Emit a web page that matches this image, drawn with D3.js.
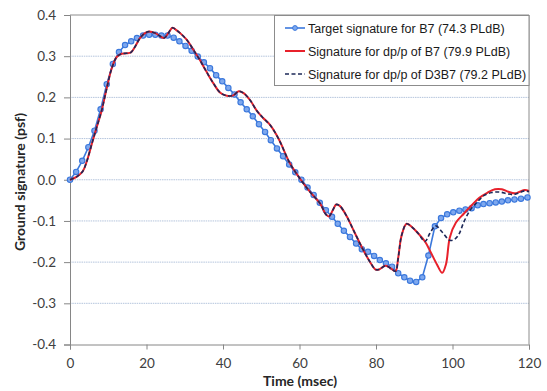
<!DOCTYPE html>
<html><head><meta charset="utf-8">
<script src="https://cdn.jsdelivr.net/npm/d3@7"></script>
<style>
body{margin:0;background:#fff;}
svg{display:block;}
.tick text{font-family:Lato, "Open Sans", sans-serif;font-size:13.5px;fill:#404040;}
</style></head>
<body><svg id="chart" width="547" height="391"></svg>
<script>
// ---- data ----
const yTicks = [-0.4,-0.3,-0.2,-0.1,0.0,0.1,0.2,0.3,0.4];
const xTicks = [0,20,40,60,80,100,120];

// Target signature for B7 (markers)
const targetT = [0,1.6,3.2,4.8,6.4,8.0,9.6,11.2,12.8,14.4,16.0,17.5,19.1,20.7,22.3,23.9,25.5,27.1,28.6,30.2,
  31.8,33.4,35.0,36.6,38.2,39.8,41.4,43.0,44.6,46.2,47.8,49.4,51.0,52.5,54.1,55.7,57.3,58.9,60.5,62.1,
  63.7,65.3,66.9,68.5,70.0,71.6,73.2,74.8,76.3,77.9,79.5,81.0,82.6,84.2,85.8,87.4,88.9,90.5,92.1,93.7,
  95.4,97.0,98.6,100.2,101.8,103.4,105.0,106.6,108.1,109.7,111.3,112.9,114.5,116.2,117.9,119.6];
const targetV = [0,0.019,0.046,0.079,0.119,0.171,0.232,0.281,0.310,0.327,0.336,0.344,0.350,0.352,0.352,0.350,0.350,0.345,0.336,0.325,
  0.313,0.299,0.285,0.271,0.254,0.239,0.223,0.207,0.188,0.171,0.154,0.135,0.116,0.096,0.076,0.057,0.037,0.018,0.000,-0.019,
  -0.037,-0.056,-0.074,-0.090,-0.107,-0.124,-0.139,-0.155,-0.169,-0.175,-0.185,-0.195,-0.203,-0.211,-0.227,-0.237,-0.245,-0.248,-0.237,-0.184,
  -0.113,-0.093,-0.084,-0.079,-0.075,-0.072,-0.069,-0.062,-0.059,-0.057,-0.055,-0.053,-0.050,-0.048,-0.046,-0.043];

// part shared by both dp/p signatures (curves coincide up to ~93 ms)
const sharedT = [0,1.7,3.3,4.4,5.7,7.0,8.3,9.6,10.9,12.2,13.5,14.8,15.9,17.0,18.3,19.6,20.7,22.3,23.5,24.6,
  25.7,26.8,28.0,28.8,30.5,32.3,34.0,35.7,37.5,39.2,41.0,42.7,44.1,45.3,47.1,48.8,50.5,52.3,54.5,57.5,
  60.1,62.7,65.4,66.9,67.7,68.8,69.6,70.6,72.3,74.5,76.7,78.4,79.9,80.8,82.4,83.7,85.1,85.8,86.7,88.0,
  89.3,91.1,92.8];
const sharedV = [0,0.007,0.020,0.045,0.087,0.128,0.169,0.222,0.270,0.298,0.306,0.307,0.309,0.323,0.344,0.356,0.360,0.356,0.349,0.344,
  0.356,0.369,0.362,0.356,0.340,0.315,0.290,0.262,0.234,0.212,0.204,0.205,0.215,0.211,0.193,0.168,0.150,0.133,0.100,0.040,
  0.003,-0.029,-0.058,-0.084,-0.089,-0.072,-0.060,-0.064,-0.088,-0.130,-0.171,-0.199,-0.218,-0.218,-0.209,-0.214,-0.222,-0.190,-0.135,-0.107,
  -0.114,-0.131,-0.150];

// Signature for dp/p of B7 (after split)
const b7TailT = [94.1,95.9,97.3,98.3,99.3,100.9,103.0,105.0,107.0,109.2,111.1,112.9,114.6,116.3,117.6,118.9,120.0];
const b7TailV = [-0.172,-0.205,-0.226,-0.205,-0.140,-0.104,-0.082,-0.062,-0.044,-0.031,-0.023,-0.023,-0.029,-0.033,-0.029,-0.025,-0.027];

// Signature for dp/p of D3B7 (after split)
const d3TailT = [94.1,95.6,97.4,99.3,100.6,101.7,102.9,104.6,106.3,108.3,110.3,112.4,114.3,115.9,117.6,118.9,120.0];
const d3TailV = [-0.130,-0.112,-0.128,-0.147,-0.144,-0.132,-0.104,-0.074,-0.056,-0.038,-0.031,-0.030,-0.034,-0.036,-0.031,-0.027,-0.029];

const legendLabels = ["Target signature for B7 (74.3 PLdB)","Signature for dp/p of B7 (79.9 PLdB)","Signature for dp/p of D3B7 (79.2 PLdB)"];

// ---- build series ----
const zip = (ts, vs) => ts.map((t,i)=>({t:t, v:vs[i]}));
const target = zip(targetT, targetV);
const sigB7 = zip(sharedT, sharedV).concat(zip(b7TailT, b7TailV));
const sigD3 = zip(sharedT, sharedV).concat(zip(d3TailT, d3TailV));

const svg = d3.select("#chart");
const x = d3.scaleLinear().domain([0,120]).range([70,529]);
const y = d3.scaleLinear().domain([-0.4,0.4]).range([344.5,15]);

const blue = "#3b78dc", red = "#e8212b", navy = "#1d2858";

// gridlines
svg.append("g").selectAll("line").data(yTicks.filter(d=>d>-0.4 && d<0.4)).join("line")
  .attr("x1",70).attr("x2",529).attr("y1",d=>y(d)).attr("y2",d=>y(d))
  .attr("stroke","#b4c4dc").attr("stroke-width",1).attr("stroke-dasharray","1.5,0.8");

// plot border (top/right)
svg.append("path").attr("d",`M70,${y(0.4)}H529V${y(-0.4)}`).attr("fill","none").attr("stroke","#8c8c8c").attr("stroke-width",1);

// axes
const fmtY = d => d3.format(".1f")(d).replace("\u2212","-");
const yAxis = svg.append("g").attr("transform","translate(70,0)")
  .call(d3.axisLeft(y).tickValues(yTicks).tickFormat(fmtY).tickSizeOuter(0).tickSize(6).tickPadding(8));
const xAxis = svg.append("g").attr("transform",`translate(0,${y(-0.4)})`)
  .call(d3.axisBottom(x).tickValues(xTicks).tickFormat(d3.format("d")).tickSizeOuter(0).tickSize(5).tickPadding(9));
[yAxis,xAxis].forEach(g=>{g.select(".domain").attr("stroke","#868686");g.selectAll(".tick line").attr("stroke","#868686");});

// axis titles
svg.append("text").attr("x",300).attr("y",386).attr("text-anchor","middle")
  .style("font-family","Lato, sans-serif").style("font-weight","bold").style("font-size","14px").attr("fill","#262626")
  .text("Time (msec)");
svg.append("text").attr("transform","translate(25,182) rotate(-90)").attr("text-anchor","middle")
  .style("font-family","Lato, sans-serif").style("font-weight","bold").style("font-size","14px").attr("fill","#262626")
  .text("Ground signature (psf)");

// lines
const line = d3.line().x(d=>x(d.t)).y(d=>y(d.v)).curve(d3.curveCatmullRom.alpha(0.5));
svg.append("path").datum(target).attr("d",d3.line().x(d=>x(d.t)).y(d=>y(d.v)))
  .attr("fill","none").attr("stroke",blue).attr("stroke-width",1.6);
svg.append("g").selectAll("circle").data(target).join("circle")
  .attr("cx",d=>x(d.t)).attr("cy",d=>y(d.v)).attr("r",2.7)
  .attr("fill","#7ea8ee").attr("stroke",blue).attr("stroke-width",1.1);
svg.append("path").datum(sigB7).attr("d",line)
  .attr("fill","none").attr("stroke",red).attr("stroke-width",2);
svg.append("path").datum(sigD3).attr("d",line)
  .attr("fill","none").attr("stroke",navy).attr("stroke-width",1.6).attr("stroke-dasharray","4,2.5");

// legend
const lg = svg.append("g");
lg.append("rect").attr("x",274.5).attr("y",15.5).attr("width",254.5).attr("height",70)
  .attr("fill","#fff").attr("stroke","#8c8c8c");
const rows = [28,51,74];
const styles = [{c:blue,w:1.6,d:null,m:true},{c:red,w:2,d:null,m:false},{c:navy,w:1.6,d:"4,2.5",m:false}];
legendLabels.forEach((lab,i)=>{
  const s = styles[i];
  lg.append("line").attr("x1",285).attr("x2",305).attr("y1",rows[i]).attr("y2",rows[i])
    .attr("stroke",s.c).attr("stroke-width",s.w).attr("stroke-dasharray",s.d);
  if(s.m) lg.append("circle").attr("cx",295).attr("cy",rows[i]).attr("r",2.4).attr("fill","#7ea8ee").attr("stroke",blue);
  lg.append("text").attr("x",308).attr("y",rows[i]+4.6)
    .style("font-family","'Liberation Sans', Arial, sans-serif").style("font-size","12.5px").attr("fill","#1a1a1a")
    .text(lab);
});
</script></body></html>
